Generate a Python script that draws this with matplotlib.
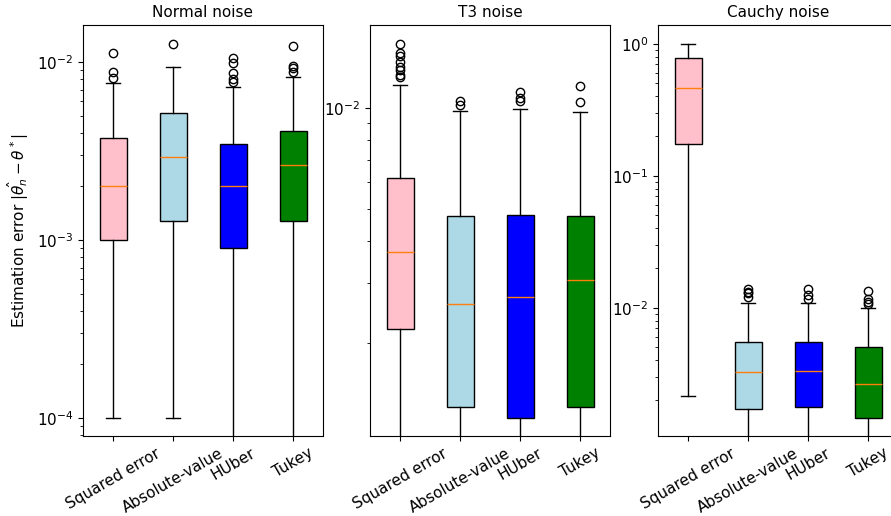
import matplotlib
matplotlib.use("Agg")
import matplotlib.pyplot as plt

methods = ["Squared error", "Absolute-value", "HUber", "Tukey"]
colors = ["pink", "lightblue", "blue", "green"]
titles = ["Normal noise", "T3 noise", "Cauchy noise"]

# Normal noise: whislo, q1, med, q3, whishi, fliers
normal_whislo = [1.0e-4, 1.0e-4, 5.0e-5, 5.0e-5]
normal_q1 = [0.00100, 0.00128, 0.000897, 0.00128]
normal_med = [0.00200, 0.00292, 0.00200, 0.00265]
normal_q3 = [0.00376, 0.00515, 0.00344, 0.00411]
normal_whishi = [0.00765, 0.00941, 0.00726, 0.00820]
normal_fliers = [[0.0112, 0.00875, 0.00816],
                 [0.0127],
                 [0.01057, 0.00982, 0.00863, 0.00802, 0.00772],
                 [0.01236, 0.00953, 0.00922, 0.00883]]

# T3 noise
t3_whislo = [5.0e-4, 5.0e-4, 5.0e-4, 5.0e-4]
t3_q1 = [0.00219, 0.00129, 0.001193, 0.00129]
t3_med = [0.003727, 0.00260, 0.002738, 0.00308]
t3_q3 = [0.00617, 0.00476, 0.00480, 0.00476]
t3_whishi = [0.01168, 0.00980, 0.00989, 0.00971]
t3_fliers = [[0.0155, 0.01452, 0.0142, 0.0137, 0.01324, 0.01294, 0.0125, 0.0123],
             [0.01047, 0.01019],
             [0.0111, 0.01071, 0.01047],
             [0.0116, 0.0104]]

# Cauchy noise
cauchy_whislo = [0.00216, 5.0e-4, 5.0e-4, 5.0e-4]
cauchy_q1 = [0.173, 0.00170, 0.00178, 0.00145]
cauchy_med = [0.459, 0.00327, 0.00333, 0.00264]
cauchy_q3 = [0.783, 0.00552, 0.00552, 0.00503]
cauchy_whishi = [1.0, 0.0108, 0.0108, 0.0100]
cauchy_fliers = [[],
                 [0.01377, 0.0132, 0.01296, 0.0120],
                 [0.01393, 0.01248, 0.01164],
                 [0.01337, 0.01164, 0.0111, 0.0106]]

panels = [
    (normal_whislo, normal_q1, normal_med, normal_q3, normal_whishi, normal_fliers, (7.92e-5, 0.01614)),
    (t3_whislo, t3_q1, t3_med, t3_q3, t3_whishi, t3_fliers, (0.001054, 0.01762)),
    (cauchy_whislo, cauchy_q1, cauchy_med, cauchy_q3, cauchy_whishi, cauchy_fliers, (0.001067, 1.386)),
]

W, H = 891, 516
fig = plt.figure(figsize=(W / 100, H / 100), dpi=100)
lefts = [83, 370, 658]
aw = 240
top, bottom = 25, 436
fs = 11

for i, (wl, q1, med, q3, wh, fl, ylim) in enumerate(panels):
    ax = fig.add_axes([lefts[i] / W, 1 - bottom / H, aw / W, (bottom - top) / H])
    stats = []
    for j in range(4):
        stats.append(dict(whislo=wl[j], q1=q1[j], med=med[j], q3=q3[j],
                          whishi=wh[j], fliers=fl[j], label=methods[j]))
    bp = ax.bxp(stats, patch_artist=True, widths=0.45)
    for patch, c in zip(bp["boxes"], colors):
        patch.set_facecolor(c)
        patch.set_edgecolor("black")
    ax.set_yscale("log")
    ax.set_ylim(*ylim)
    ax.set_xlim(0.5, 4.5)
    ax.set_title(titles[i], fontsize=fs)
    ax.tick_params(axis="y", labelsize=fs)
    ax.set_xticks(range(1, 5))
    ax.set_xticklabels(methods, rotation=30, fontsize=fs)
    if i == 0:
        ax.set_ylabel(r"Estimation error $|\hat{\theta_n} - \theta^*|$", fontsize=fs)

fig.savefig("out.png", dpi=100)
